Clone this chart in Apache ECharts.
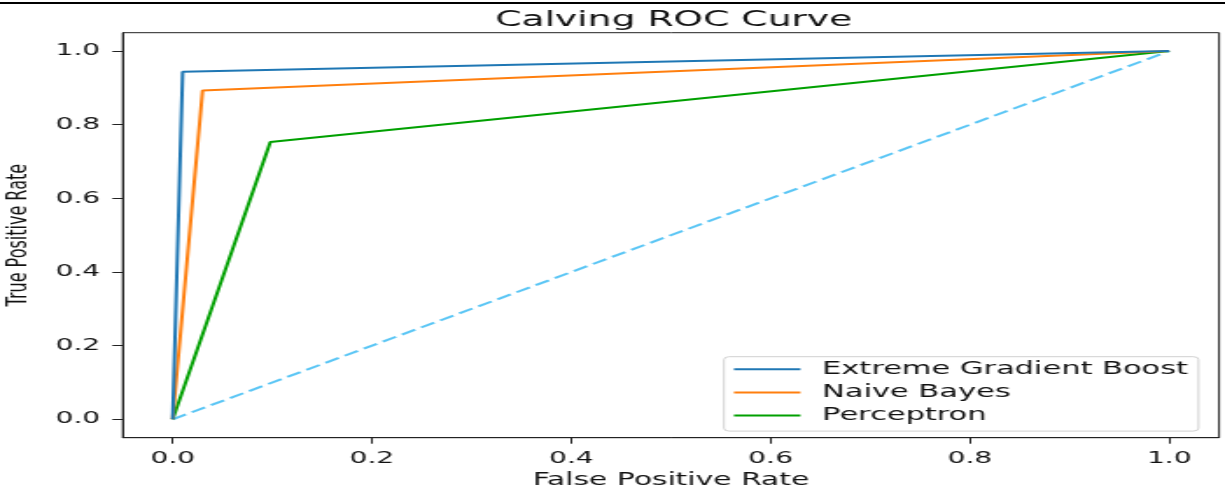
<!DOCTYPE html>
<html>
<head>
<meta charset="utf-8">
<script src="https://cdn.jsdelivr.net/npm/echarts@6/dist/echarts.min.js"></script>
<style>
html, body { margin: 0; padding: 0; background: #fff; overflow: hidden; }
#wrap { width: 700px; height: 489px; transform: scaleX(1.75); transform-origin: 0 0; }
</style>
</head>
<body>
<div id="wrap"></div>
<script>
// ---- data ----
const seriesNames = ['Extreme Gradient Boost', 'Naive Bayes', 'Perceptron'];
const xgbFPR = [0, 0.01, 1];
const xgbTPR = [0, 0.944, 1];
const nbFPR = [0, 0.03, 1];
const nbTPR = [0, 0.893, 1];
const percFPR = [0, 0.098, 1];
const percTPR = [0, 0.753, 1];
const chanceFPR = [0, 1];
const chanceTPR = [0, 1];
const xTicks = [0, 0.2, 0.4, 0.6, 0.8, 1.0];
const yTicks = [0, 0.2, 0.4, 0.6, 0.8, 1.0];

const colors = ['#1f77b4', '#ff7f0e', '#00a000'];
const pairs = (xs, ys) => xs.map((x, i) => [x, ys[i]]);

const chart = echarts.init(document.getElementById('wrap'), null, { renderer: 'canvas', devicePixelRatio: 1 });
const font = 'DejaVu Sans';

const lineSeries = [
  [xgbFPR, xgbTPR], [nbFPR, nbTPR], [percFPR, percTPR]
].map((d, i) => ({
  name: seriesNames[i],
  type: 'line',
  data: pairs(d[0], d[1]),
  symbol: 'none',
  showSymbol: false,
  z: 5 - i,
  lineStyle: { color: colors[i], width: 2 },
  itemStyle: { color: colors[i] }
}));

chart.setOption({
  animation: false,
  title: {
    text: 'Calving ROC Curve',
    left: 380, textAlign: 'center', top: 4,
    textStyle: { fontFamily: font, fontSize: 21.5, fontWeight: 'normal', color: '#111' }
  },
  graphic: [{
    type: 'line', shape: { x1: 0, y1: 3, x2: 700, y2: 3 },
    style: { stroke: '#000', lineWidth: 2 }, silent: true
  }],
  legend: {
    orient: 'vertical',
    left: 413.7, top: 356.7,
    padding: [4, 6, 7, 5.7],
    itemWidth: 38, itemHeight: 2, itemGap: 6.2,
    icon: 'rect',
    data: seriesNames,
    backgroundColor: 'rgba(255,255,255,0.85)',
    borderColor: '#d0d0d0', borderWidth: 1, borderRadius: 3,
    textStyle: { fontFamily: font, fontSize: 17.4, color: '#111', lineHeight: 17, padding: [0, 0, 0, 7.4] },
    selectedMode: false
  },
  grid: {
    left: 70.2, right: 3.4, top: 32.7, bottom: 51.3,
    outerBoundsMode: 'none', containLabel: false,
    show: true, borderColor: '#222', borderWidth: 1, backgroundColor: 'transparent'
  },
  xAxis: {
    type: 'value', min: -0.05, max: 1.05,
    name: 'False Positive Rate', nameLocation: 'middle', nameGap: 33,
    nameTextStyle: { fontFamily: font, fontSize: 17, color: '#111' },
    splitLine: { show: false },
    axisLine: { show: true, onZero: false, lineStyle: { color: '#222', width: 1 } },
    axisTick: { show: true, length: 6, customValues: xTicks, lineStyle: { color: '#222' } },
    axisLabel: {
      customValues: xTicks, margin: 13,
      formatter: v => v.toFixed(1),
      fontFamily: font, fontSize: 16, color: '#111'
    }
  },
  yAxis: {
    type: 'value', min: -0.05, max: 1.05,
    name: 'True Positive Rate', nameLocation: 'middle', nameGap: 51,
    nameTextStyle: { fontFamily: font, fontSize: 16, color: '#111' },
    splitLine: { show: false },
    axisLine: { show: true, onZero: false, lineStyle: { color: '#222', width: 1 } },
    axisTick: { show: true, length: 6, customValues: yTicks, lineStyle: { color: '#222' } },
    axisLabel: {
      customValues: yTicks, margin: 13,
      formatter: v => v.toFixed(1),
      fontFamily: font, fontSize: 16, color: '#111'
    }
  },
  series: [
    ...lineSeries,
    {
      name: 'chance',
      type: 'line',
      data: pairs(chanceFPR, chanceTPR),
      symbol: 'none', showSymbol: false,
      z: 1,
      lineStyle: { color: '#5bc6f5', width: 2, type: [9, 4] }
    }
  ]
});
</script>
</body>
</html>
